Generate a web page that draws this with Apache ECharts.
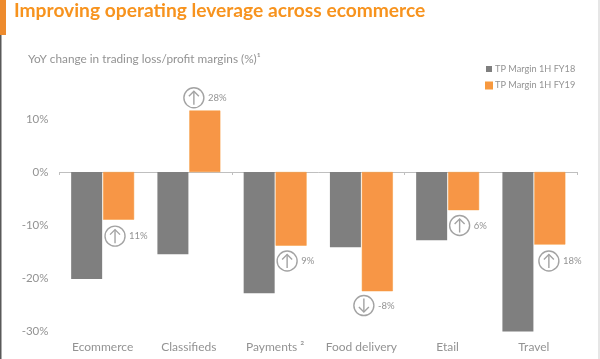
<!DOCTYPE html>
<html>
<head>
<meta charset="utf-8">
<style>html,body{margin:0;padding:0;background:#fff}#c{width:600px;height:359px}</style>
<script src="https://cdn.jsdelivr.net/npm/echarts@6/dist/echarts.min.js"></script>
</head>
<body>
<div id="c"></div>
<script>
const categories = ['Ecommerce', 'Classifieds', 'Payments ²', 'Food delivery', 'Etail', 'Travel'];
const marginFY18 = [-20.2, -15.5, -22.9, -14.2, -12.9, -30.1];
const marginFY19 = [-9.0, 11.6, -13.9, -22.5, -7.2, -13.7];
const yoyChange = [11, 28, 9, -8, 6, 18];
const calloutLevels = [-12.1, 14.0, -16.8, -25.2, -10.1, -16.8];
const calloutShiftPx = [12.4, 5, 12, 2.5, 12, 15];

const ORANGE = '#F79646', TITLE = '#F7931E', GREY = '#7F7F7F', TEXT = '#939393', FONT = 'Lato';
const chart = echarts.init(document.getElementById('c'), null, {renderer: 'canvas'});

function renderCallout(params, api) {
  const i = api.value(0);
  const p = api.coord([i, api.value(1)]);
  const cx = p[0] + calloutShiftPx[i], cy = p[1];
  const up = yoyChange[i] >= 0, d = up ? 1 : -1;
  const stroke = {stroke: '#A3A3A3', lineWidth: 1.4, fill: null};
  return {type: 'group', children: [
    {type: 'circle', shape: {cx, cy, r: 10}, style: {stroke: '#A3A3A3', lineWidth: 1.4, fill: '#fff'}},
    {type: 'line', shape: {x1: cx, y1: cy + 7 * d, x2: cx, y2: cy - 6.5 * d}, style: stroke},
    {type: 'polyline', shape: {points: [[cx - 5, cy - 1.5 * d], [cx, cy - 6.5 * d], [cx + 5, cy - 1.5 * d]]}, style: stroke},
    {type: 'text', x: cx + 14, y: cy, style: {text: yoyChange[i] + '%', fill: TEXT, font: '9.5px ' + FONT, textVerticalAlign: 'middle'}}
  ]};
}

chart.setOption({
  backgroundColor: '#fff',
  animation: false,
  textStyle: {fontFamily: FONT},
  title: [
    {text: 'Improving operating leverage across ecommerce', left: 9, top: -4,
      textStyle: {color: TITLE, fontFamily: FONT, fontWeight: 'bold', fontSize: 19.2}},
    {text: 'YoY change in trading loss/profit margins (%)¹', left: 23, top: 48,
      textStyle: {color: TEXT, fontFamily: FONT, fontWeight: 'normal', fontSize: 11.8}}
  ],
  legend: {
    orient: 'vertical', left: 480, top: 59.5, itemWidth: 6, itemHeight: 6, itemGap: 7.5, icon: 'rect',
    data: ['TP Margin 1H FY18', 'TP Margin 1H FY19'],
    textStyle: {color: TEXT, fontSize: 9.2, fontFamily: FONT, padding: [0, 0, 0, -2]}
  },
  grid: {left: 59.5, right: 23, top: 66, height: 265, containLabel: false},
  xAxis: [
    {type: 'category', data: categories,
      axisLine: {onZero: true, lineStyle: {color: '#BFBFBF', width: 1}},
      axisTick: {show: true, length: 3, lineStyle: {color: '#BFBFBF'}},
      axisLabel: {show: false}},
    {type: 'category', data: categories, position: 'bottom',
      axisLine: {show: false, onZero: false}, axisTick: {show: false},
      axisLabel: {color: TEXT, fontSize: 12, fontFamily: FONT, margin: 10, interval: 0}}
  ],
  yAxis: {
    type: 'value', min: -30, max: 20, interval: 10,
    splitLine: {show: false}, axisLine: {show: false}, axisTick: {show: false},
    axisLabel: {color: TEXT, fontSize: 11.5, fontFamily: FONT, margin: 11,
      formatter: v => v > 10 ? '' : v + '%'}
  },
  series: [
    {name: 'TP Margin 1H FY18', type: 'bar', data: marginFY18, clip: false,
      barWidth: 31, barGap: '3%',
      itemStyle: {color: GREY}},
    {name: 'TP Margin 1H FY19', type: 'bar', data: marginFY19, clip: false,
      barWidth: 31, barGap: '3%',
      itemStyle: {color: ORANGE, borderColor: '#F79A3C', borderWidth: 0.5}},
    {type: 'custom', clip: false, renderItem: renderCallout, z: 5,
      encode: {x: 0, y: 1}, tooltip: {show: false},
      data: categories.map((c, i) => [i, calloutLevels[i]])}
  ],
  graphic: [
    {type: 'rect', left: 0, top: 0, shape: {width: 1.5, height: 359}, style: {fill: '#595959'}},
    {type: 'rect', left: 0, top: 0, shape: {width: 6, height: 35}, style: {fill: '#ED8B2E'}},
    {type: 'rect', left: 598, top: 0, shape: {width: 2, height: 359}, style: {fill: '#E6E6E6'}}
  ]
});
</script>
</body>
</html>
